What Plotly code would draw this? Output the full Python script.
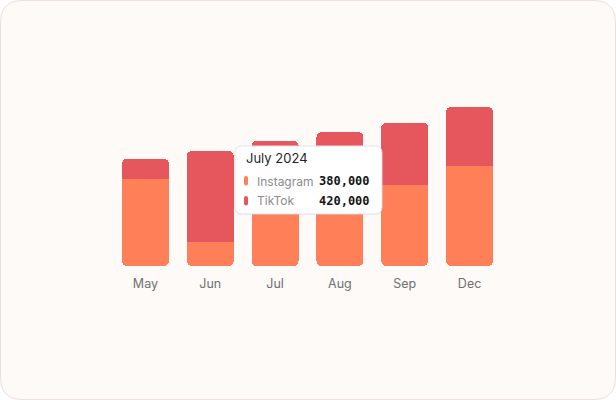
import plotly.graph_objects as go

months = ["May", "Jun", "Jul", "Aug", "Sep", "Dec"]
instagram = [555000, 155000, 380000, 420000, 515000, 640000]
tiktok = [130000, 580000, 420000, 435000, 400000, 377000]
tooltip_index = 2
tooltip_title = "July 2024"

C_IG = "#FF7F58"
C_TT = "#E5565D"
W, H = 616, 400

# layout geometry (pixels)
plot_l, plot_r = 113, 502
zero_py = 266
units_per_px = 6390
ymax = 1100000
top_py = zero_py - ymax / units_per_px
corner_px = 5
pad = 8 * units_per_px  # bottom strip left to the rounded overlay bar

def px(x):
    return x / W

def py(y):
    return 1 - y / H

fig = go.Figure()
# main stack: invisible bottom strip, Instagram, TikTok (rounded top)
fig.add_bar(x=months, y=[pad] * len(months), marker_color="rgba(0,0,0,0)",
            marker_line_width=0, hoverinfo="skip", name="pad")
fig.add_bar(x=months, y=[v - pad for v in instagram], name="Instagram",
            marker_color=C_IG, marker_line_width=0, hoverinfo="skip")
fig.add_bar(x=months, y=tiktok, name="TikTok", marker_color=C_TT,
            marker_line_width=0, hoverinfo="skip")
# Instagram again on a flipped overlay axis -> rounded bottom corners
fig.add_bar(x=months, y=instagram, base=[ymax - v for v in instagram],
            name="Instagram", marker_color=C_IG, marker_line_width=0,
            hoverinfo="skip", yaxis="y2")

def rrect(x0, y0, x1, y1, r):
    rx, ry = r / W, r / H
    X0, X1 = px(x0), px(x1)
    Y0, Y1 = py(y0), py(y1)
    return (f"M{X0+rx},{Y0} L{X1-rx},{Y0} Q{X1},{Y0} {X1},{Y0-ry} "
            f"L{X1},{Y1+ry} Q{X1},{Y1} {X1-rx},{Y1} L{X0+rx},{Y1} "
            f"Q{X0},{Y1} {X0},{Y1+ry} L{X0},{Y0-ry} Q{X0},{Y0} {X0+rx},{Y0} Z")

shapes = [
    dict(type="path", xref="paper", yref="paper", layer="below",
         path=rrect(0.5, 0.5, 615.5, 399.5, 22), fillcolor="#FDFAF8",
         line=dict(color="#EEDFE0", width=1)),
    dict(type="path", xref="paper", yref="paper", layer="above",
         path=rrect(235, 147, 383, 215, 7), fillcolor="rgba(0,0,0,0.04)",
         line=dict(width=0)),
    dict(type="path", xref="paper", yref="paper", layer="above",
         path=rrect(235, 146, 382, 214, 7), fillcolor="#FFFFFF",
         line=dict(color="#E8E0E0", width=1)),
]
for ypix, col in [(181, C_IG), (201, C_TT)]:
    shapes.append(dict(type="path", xref="paper", yref="paper", layer="above",
                       path=rrect(244, ypix - 5, 248, ypix + 4.5, 2),
                       fillcolor=col, line=dict(width=0)))

anns = [
    dict(text=tooltip_title, x=px(244), y=py(158), xref="paper", yref="paper",
         xanchor="left", yanchor="middle", showarrow=False,
         font=dict(family="Inter", size=13, color="#1F1F1F")),
]
for ypix, name, val in [(181, "Instagram", instagram[tooltip_index]),
                        (201, "TikTok", tiktok[tooltip_index])]:
    anns.append(dict(text=name, x=px(255), y=py(ypix), xref="paper", yref="paper",
                     xanchor="left", yanchor="middle", showarrow=False,
                     font=dict(family="Inter", size=12, color="#8C8C8C")))
    anns.append(dict(text=f"<b>{val:,}</b>", x=px(372), y=py(ypix), xref="paper",
                     yref="paper", xanchor="right", yanchor="middle", showarrow=False,
                     font=dict(family="DejaVu Sans Mono", size=12, color="#151515")))

ydom = [py(zero_py), py(top_py)]
fig.update_layout(
    width=W, height=H,
    margin=dict(l=0, r=0, t=0, b=0),
    paper_bgcolor="#FFFFFF",
    plot_bgcolor="rgba(0,0,0,0)",
    barmode="stack",
    bargap=0.275,
    barcornerradius=corner_px,
    showlegend=False,
    hovermode=False,
    shapes=shapes,
    annotations=anns,
    font=dict(family="Inter"),
    xaxis=dict(domain=[px(plot_l), px(plot_r)], showgrid=False, zeroline=False,
               showline=False, ticks="", automargin=False,
               tickfont=dict(family="Inter", size=12.5, color="#707070"),
               ticklabelstandoff=8),
    yaxis=dict(domain=ydom, range=[0, ymax], visible=False,
               showgrid=False, zeroline=False, automargin=False),
    yaxis2=dict(overlaying="y", range=[ymax, 0], visible=False,
                showgrid=False, zeroline=False, automargin=False),
)

fig.write_html("out.html", config={"displayModeBar": False},
               post_script="document.body.style.margin='0px';document.body.style.overflow='hidden';")
